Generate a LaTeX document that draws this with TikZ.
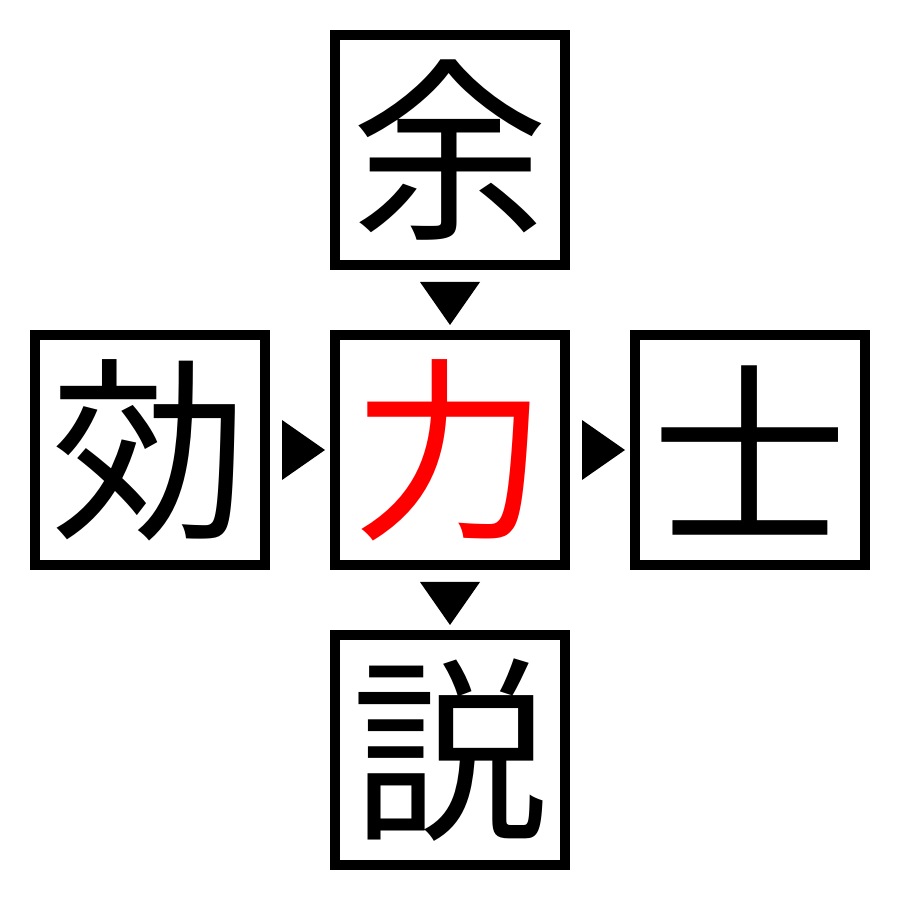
\documentclass[tikz,border=0pt]{standalone}
\usepackage{fontspec}
\newfontfamily\cjk{Noto Sans CJK JP}
\tikzset{
  cell/.style={rectangle,draw,line width=1mm,minimum size=2.3cm,inner sep=0pt,
    font=\cjk\fontsize{56}{56}\selectfont},
  pointer/.style={fill=black}
}
\begin{document}
\begin{tikzpicture}
\useasboundingbox (0,0) rectangle (9,9);

\draw (4.5,7.5) node[cell] (top) {余};
\draw (1.5,4.5) node[cell] (left) {効};
\draw (4.5,4.5) node[cell,text=red] (mid) {力};
\draw (7.5,4.5) node[cell] (right) {士};
\draw (4.5,1.5) node[cell] (bottom) {説};

% arrow marks between the boxes
\fill[pointer] ([xshift=-3mm,yshift=-1.2mm]top.south) -- ([xshift=3mm,yshift=-1.2mm]top.south) -- ([yshift=-5.5mm]top.south) -- cycle;
\fill[pointer] ([xshift=-3mm,yshift=-1.2mm]mid.south) -- ([xshift=3mm,yshift=-1.2mm]mid.south) -- ([yshift=-5.5mm]mid.south) -- cycle;
\fill[pointer] ([xshift=1.2mm,yshift=3mm]left.east) -- ([xshift=1.2mm,yshift=-3mm]left.east) -- ([xshift=5.5mm]left.east) -- cycle;
\fill[pointer] ([xshift=1.2mm,yshift=3mm]mid.east) -- ([xshift=1.2mm,yshift=-3mm]mid.east) -- ([xshift=5.5mm]mid.east) -- cycle;

\end{tikzpicture}
\end{document}
